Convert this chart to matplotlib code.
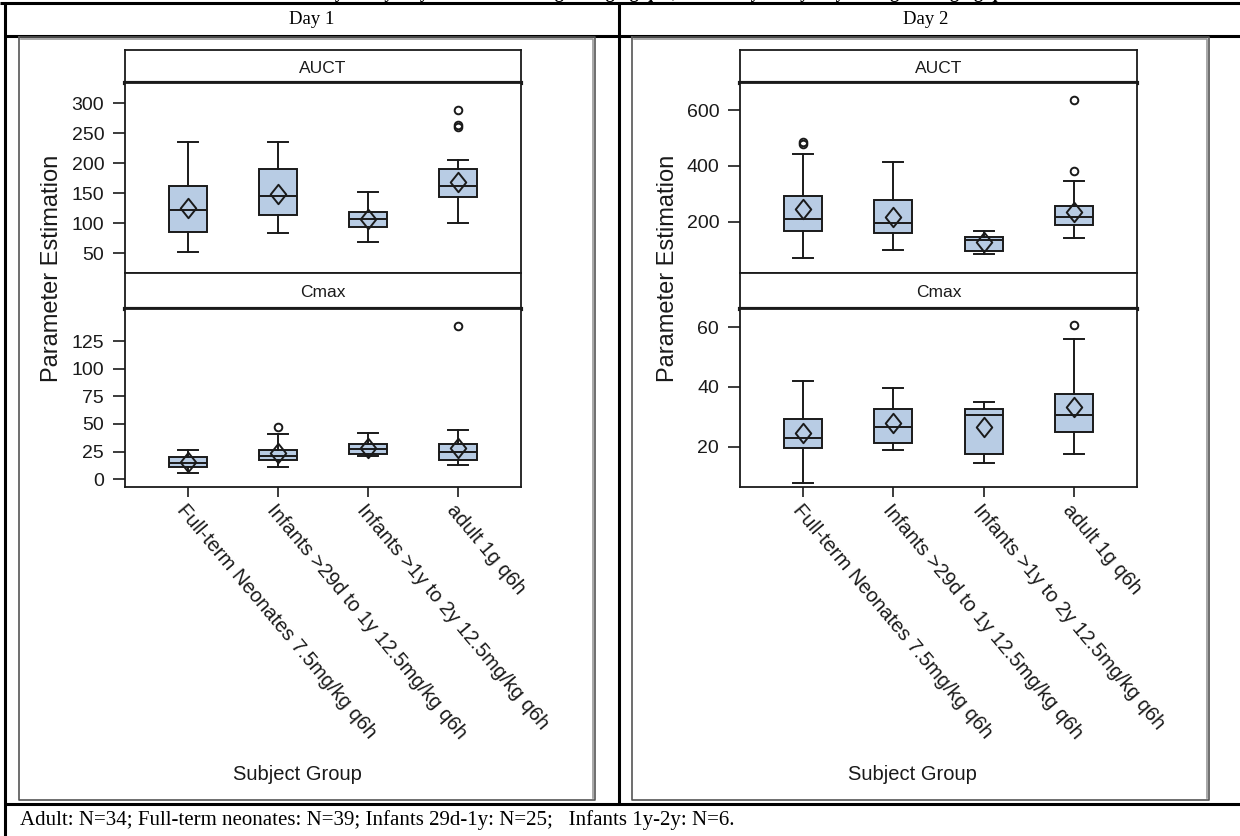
import matplotlib.pyplot as plt
from matplotlib.path import Path

W, H = 1240, 836

groups = ["Full-term Neonates 7.5mg/kg q6h", "Infants >29d to 1y 12.5mg/kg q6h",
          "Infants >1y to 2y 12.5mg/kg q6h", "adult 1g q6h"]

# rows: [whisker low, q1, median, q3, whisker high, mean]
d1_auct = [[52, 86, 122, 162, 235, 126],
           [84, 113, 146, 190, 235, 148],
           [68, 93, 107, 119, 152, 107],
           [100, 144, 162, 190, 206, 169]]
d1_auct_out = [[], [], [], [289, 264, 260]]

d1_cmax = [[5.4, 10.8, 15, 19.8, 26.4, 16],
           [10.8, 17.4, 21.3, 26.4, 40.6, 23.4],
           [21.3, 22.8, 27.3, 31.9, 41.8, 28.5],
           [12.6, 17.4, 25, 31.9, 45, 28.5]]
d1_cmax_out = [[], [47.5], [], [139]]

d2_auct = [[71, 167, 208, 292, 442, 244],
           [98, 158, 194, 278, 415, 218],
           [84, 96, 134, 146, 167, 128],
           [140, 187, 218, 257, 346, 236]]
d2_auct_out = [[478, 486], [], [], [381, 636]]

d2_cmax = [[7.9, 19.4, 22.8, 29.2, 42.1, 24.7],
           [18.9, 21.3, 26.7, 32.5, 39.6, 28],
           [14.4, 17.5, 30.5, 32.5, 35, 26.7],
           [17.5, 25, 30.5, 37.7, 56.2, 33.2]]
d2_cmax_out = [[], [], [], [60.8]]

footnote = "Adult: N=34; Full-term neonates: N=39; Infants 29d-1y: N=25;   Infants 1y-2y: N=6."
title = "Parameter Estimation by Study Day: Neonates dosing 7.5mg/kg q6h, Infants by Study Day dosing 12.5mg/kg q6h"

SANS = ['Liberation Sans', 'DejaVu Sans']
SERIF = ['Liberation Serif', 'DejaVu Serif']
FILL = '#b8cce4'
INK = '#1a1a1a'

diamond = Path([(0, 1.25), (1, 0), (0, -1.25), (-1, 0), (0, 1.25)],
               [Path.MOVETO, Path.LINETO, Path.LINETO, Path.LINETO, Path.CLOSEPOLY])

fig = plt.figure(figsize=(W / 100, H / 100), dpi=100)

# overlay in pixel coordinates for the table frame
bg = fig.add_axes([0, 0, 1, 1], zorder=-1)
bg.set_xlim(0, W)
bg.set_ylim(H, 0)
bg.axis('off')


def hline(y, x0, x1, lw=2.2, c='black'):
    bg.plot([x0, x1], [y, y], color=c, lw=lw, solid_capstyle='butt')


def vline(x, y0, y1, lw=2.2, c='black'):
    bg.plot([x, x], [y0, y1], color=c, lw=lw, solid_capstyle='butt')


hline(3, 0, W)
hline(35.5, 5, W)
hline(803.5, 5, W)
vline(5, 3, H)
vline(619, 3, 804)
bg.text(312, 19, "Day 1", ha='center', va='center', fontsize=13.5, family=SERIF)
bg.text(926, 19, "Day 2", ha='center', va='center', fontsize=13.5, family=SERIF)
bg.text(20, 820, footnote, ha='left', va='center', fontsize=15, family=SERIF)
bg.text(150, -1.5, title, ha='left', va='baseline', fontsize=13, family=SERIF,
        fontweight='bold', clip_on=False)

# image boxes with grey shadow
for x0, x1 in [(19, 595), (632, 1209)]:
    bg.plot([x0 + 2, x1 - 2, x1 - 2], [39, 39, 798], color='#9a9a9a', lw=1.2)
    bg.plot([x0, x1, x1, x0, x0], [37, 37, 800, 800, 37], color='#555555', lw=1.2)


def ax_px(x0, y0, x1, y1):
    return fig.add_axes([x0 / W, 1 - y1 / H, (x1 - x0) / W, (y1 - y0) / H])


def strip(x0, x1, y0, y1, label):
    s = ax_px(x0, y0, x1, y1)
    s.set_xticks([])
    s.set_yticks([])
    for sp in s.spines.values():
        sp.set_linewidth(1.3)
        sp.set_color(INK)
    s.spines['bottom'].set_linewidth(3)
    s.text(0.5, 0.45, label, ha='center', va='center', transform=s.transAxes,
           fontsize=12.5, family=SANS, color=INK)


def boxes(ax, rows, outs, ylim, yticks):
    stats = []
    for r, o in zip(rows, outs):
        stats.append(dict(whislo=r[0], q1=r[1], med=r[2], q3=r[3], whishi=r[4],
                          mean=r[5], fliers=o))
    ax.bxp(stats, positions=range(1, len(stats) + 1), widths=0.42, capwidths=0.22,
           showmeans=True, patch_artist=True,
           boxprops=dict(facecolor=FILL, edgecolor=INK, linewidth=1.4),
           medianprops=dict(color=INK, linewidth=1.4),
           whiskerprops=dict(color=INK, linewidth=1.4),
           capprops=dict(color=INK, linewidth=1.4),
           meanprops=dict(marker=diamond, markersize=14, markerfacecolor='none',
                          markeredgecolor=INK, markeredgewidth=1.4),
           flierprops=dict(marker='o', markersize=5.5, markerfacecolor='none',
                           markeredgecolor=INK, markeredgewidth=1.4))
    ax.set_xlim(0.3, 4.7)
    ax.set_ylim(*ylim)
    ax.set_yticks(yticks)
    ax.tick_params(axis='y', length=9, width=1.2, color=INK, labelsize=14,
                   labelcolor=INK, pad=6)
    for lab in ax.get_yticklabels():
        lab.set_family(SANS)
    for sp in ax.spines.values():
        sp.set_linewidth(1.3)
        sp.set_color(INK)


panels = [
    (125, 521, d1_auct, d1_auct_out, (17, 334), [50, 100, 150, 200, 250, 300],
     d1_cmax, d1_cmax_out, (-7, 154), [0, 25, 50, 75, 100, 125], 52),
    (740, 1137, d2_auct, d2_auct_out, (16, 697), [200, 400, 600],
     d2_cmax, d2_cmax_out, (6.5, 66.1), [20, 40, 60], 668),
]

for x0, x1, auct, auct_out, ylim1, yt1, cmax, cmax_out, ylim2, yt2, ylab_x in panels:
    strip(x0, x1, 50, 83, "AUCT")
    a1 = ax_px(x0, 83, x1, 273)
    boxes(a1, auct, auct_out, ylim1, yt1)
    a1.tick_params(axis='x', bottom=False, labelbottom=False)

    strip(x0, x1, 273, 309, "Cmax")
    a2 = ax_px(x0, 309, x1, 487)
    boxes(a2, cmax, cmax_out, ylim2, yt2)
    a2.set_xticks(range(1, 5))
    a2.set_xticklabels(groups, rotation=-50, ha='left', va='top',
                       rotation_mode='anchor', fontsize=14.5, family=SANS, color=INK)
    a2.tick_params(axis='x', length=7, width=1.2, color=INK, pad=3)

    bg.text(ylab_x, 268, "Parameter Estimation", rotation=90, ha='center', va='center',
            fontsize=17, family=SANS, color=INK)
    bg.text((x0 + x1) / 2 - 26, 774, "Subject Group", ha='center', va='center',
            fontsize=14.5, family=SANS, color=INK)

fig.savefig("out.png", dpi=100)
